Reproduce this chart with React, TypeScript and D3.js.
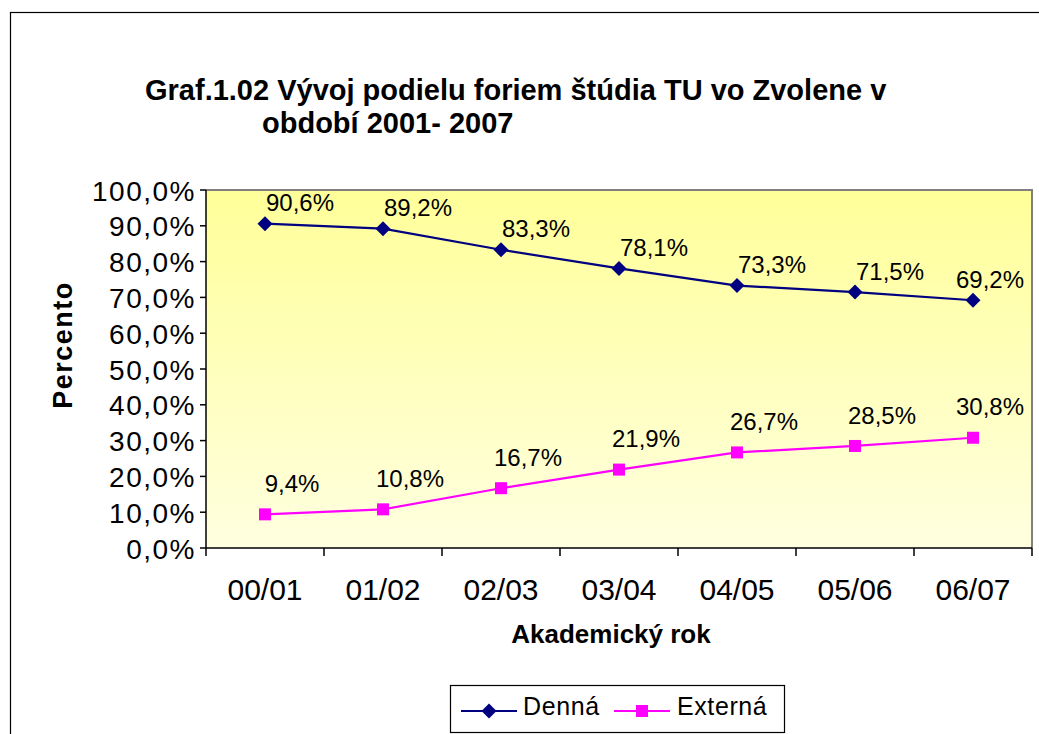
import React from "react";
import * as d3 from "d3";

const categories = ["00/01", "01/02", "02/03", "03/04", "04/05", "05/06", "06/07"];
const dennaValues = [90.6, 89.2, 83.3, 78.1, 73.3, 71.5, 69.2];
const externaValues = [9.4, 10.8, 16.7, 21.9, 26.7, 28.5, 30.8];
const yTicks = [0, 10, 20, 30, 40, 50, 60, 70, 80, 90, 100];
const seriesNames = ["Denná", "Externá"];

const W = 1039;
const H = 734;
const plot = { left: 206, top: 190, right: 1032, bottom: 548 };
const FONT = "'Liberation Sans', Arial, sans-serif";

const fmt = (v: number) => v.toFixed(1).replace(".", ",") + "%";

export default function App() {
  const x = d3.scaleBand<string>().domain(categories).range([plot.left, plot.right]).padding(0);
  const y = d3.scaleLinear().domain([0, 100]).range([plot.bottom, plot.top]);
  const cx = (c: string) => (x(c) as number) + x.bandwidth() / 2;
  const labelX = (c: string, dx: number) => Math.min(cx(c) + dx, plot.right - 42);

  const line = d3
    .line<number>()
    .x((_, i) => cx(categories[i]))
    .y((d) => y(d));

  const diamond = (px: number, py: number, r: number) =>
    `M${px},${py - r}L${px + r},${py}L${px},${py + r}L${px - r},${py}Z`;

  const bandEdges = categories.map((c) => x(c) as number).concat([plot.right]);

  return (
    <svg
      width={W}
      height={H}
      style={{ position: "absolute", left: 0, top: 0, background: "#fff" }}
      fontFamily={FONT}
    >
      <defs>
        <linearGradient id="bg" x1="0" y1="0" x2="0" y2="1">
          <stop offset="0%" stopColor="#FFFF99" />
          <stop offset="100%" stopColor="#FFFFE0" />
        </linearGradient>
      </defs>
      {/* outer chart border */}
      <rect x={10.5} y={12.5} width={1040} height={740} fill="#fff" stroke="#000" strokeWidth={1.2} />

      {/* title */}
      <text x={145} y={100} fontSize={29} fontWeight="bold" fill="#000">
        Graf.1.02 Vývoj podielu foriem štúdia TU vo Zvolene v
      </text>
      <text x={262} y={133} fontSize={29} fontWeight="bold" fill="#000">
        období 2001- 2007
      </text>

      {/* plot area */}
      <rect
        x={plot.left}
        y={plot.top}
        width={plot.right - plot.left}
        height={plot.bottom - plot.top}
        fill="url(#bg)"
      />
      <path
        d={`M${plot.left},${plot.top}H${plot.right}V${plot.bottom}`}
        fill="none"
        stroke="#808080"
        strokeWidth={2}
      />

      {/* y axis */}
      <line x1={plot.left} x2={plot.left} y1={plot.top} y2={plot.bottom} stroke="#000" strokeWidth={1.5} />
      {yTicks.map((t) => (
        <g key={t}>
          <line x1={plot.left - 6} x2={plot.left} y1={y(t)} y2={y(t)} stroke="#000" strokeWidth={1.5} />
          <text
            x={196}
            y={y(t)}
            dy="0.38em"
            fontSize={28}
            letterSpacing={1.5}
            textAnchor="end"
            fill="#000"
          >
            {fmt(t)}
          </text>
        </g>
      ))}
      <text
        transform={`translate(72,345) rotate(-90)`}
        fontSize={27}
        fontWeight="bold"
        letterSpacing={1.5}
        textAnchor="middle"
        fill="#000"
      >
        Percento
      </text>

      {/* x axis */}
      <line x1={plot.left} x2={plot.right} y1={plot.bottom} y2={plot.bottom} stroke="#000" strokeWidth={1.5} />
      {bandEdges.map((e, i) => (
        <line key={i} x1={e} x2={e} y1={plot.bottom} y2={plot.bottom + 8} stroke="#000" strokeWidth={1.5} />
      ))}
      {categories.map((c) => (
        <text key={c} x={cx(c)} y={600} fontSize={30} textAnchor="middle" fill="#000">
          {c}
        </text>
      ))}
      <text x={611} y={643} fontSize={26} fontWeight="bold" textAnchor="middle" fill="#000">
        Akademický rok
      </text>

      {/* series lines */}
      <path d={line(dennaValues) || ""} fill="none" stroke="#000080" strokeWidth={2.2} />
      <path d={line(externaValues) || ""} fill="none" stroke="#FF00FF" strokeWidth={2.2} />

      {/* markers */}
      {dennaValues.map((v, i) => (
        <path key={"d" + i} d={diamond(cx(categories[i]), y(v), 7.5)} fill="#000080" />
      ))}
      {externaValues.map((v, i) => (
        <rect
          key={"e" + i}
          x={cx(categories[i]) - 6}
          y={y(v) - 6}
          width={12}
          height={12}
          fill="#FF00FF"
        />
      ))}

      {/* data labels */}
      {dennaValues.map((v, i) => (
        <text
          key={"dl" + i}
          x={labelX(categories[i], 35)}
          y={y(v) - 21}
          dy="0.36em"
          fontSize={24}
          textAnchor="middle"
          fill="#000"
        >
          {fmt(v)}
        </text>
      ))}
      {externaValues.map((v, i) => (
        <text
          key={"el" + i}
          x={labelX(categories[i], 27)}
          y={y(v) - 31}
          dy="0.36em"
          fontSize={24}
          textAnchor="middle"
          fill="#000"
        >
          {fmt(v)}
        </text>
      ))}

      {/* legend */}
      <rect x={450.5} y={685.5} width={334} height={47} fill="#fff" stroke="#000" strokeWidth={1.2} />
      <line x1={461} x2={517} y1={711} y2={711} stroke="#000080" strokeWidth={2.2} />
      <path d={diamond(489, 711, 7.5)} fill="#000080" />
      <text x={523} y={715} fontSize={25} letterSpacing={0.6} fill="#000">
        {seriesNames[0]}
      </text>
      <line x1={614} x2={670} y1={711} y2={711} stroke="#FF00FF" strokeWidth={2.2} />
      <rect x={636} y={705} width={12} height={12} fill="#FF00FF" />
      <text x={677} y={715} fontSize={25} letterSpacing={0.6} fill="#000">
        {seriesNames[1]}
      </text>
    </svg>
  );
}
